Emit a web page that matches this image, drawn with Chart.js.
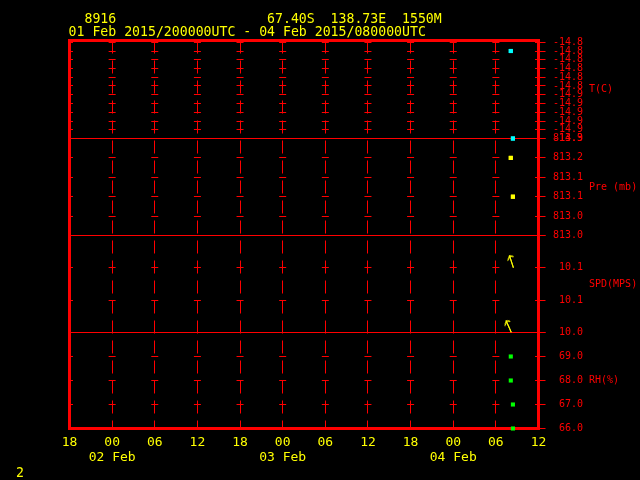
<!DOCTYPE html>
<html>
<head>
<meta charset="utf-8">
<script src="https://cdn.jsdelivr.net/npm/chart.js@4.4.1/dist/chart.umd.min.js"></script>
<style>
  html, body { margin: 0; padding: 0; background: #000; }
  #wrap { position: relative; width: 640px; height: 480px; background: #000; }
  #meteo { position: absolute; left: 0; top: 0; }
  .lbl { position: absolute; color: #ffff00; font: 13.2px "DejaVu Sans Mono", monospace; line-height: 13px; white-space: pre; }
</style>
</head>
<body>
<div id="wrap">
  <canvas id="meteo" width="640" height="480"></canvas>
  <div class="lbl" style="left:68.6px;top:12px">  8916                   67.40S  138.73E  1550M
01 Feb 2015/200000UTC - 04 Feb 2015/080000UTC</div>
  <div class="lbl" style="left:16px;top:466px">2</div>
</div>
<script>
/* ═══════════════════════════════════════════
   STATION 8916 METEOGRAM
═══════════════════════════════════════════ */

const RED = '#ff0000';
const YELLOW = '#ffff00';
const MONO = '"DejaVu Sans Mono", monospace';

// time axis: hours after 01 Feb 18 UTC
const hourTicks = [0, 6, 12, 18, 24, 30, 36, 42, 48, 54, 60, 66];
const hourLabels = ['18', '00', '06', '12', '18', '00', '06', '12', '18', '00', '06', '12'];
const dayLabels = ['', '02 Feb', '', '', '', '03 Feb', '', '', '', '04 Feb', '', ''];

// observations
const obsHours = [62.1, 62.1, 62.4, 62.4];
const tempC = [-14.81, -14.81, -14.91, -14.91];
const presMb = [813.20, 813.20, 813.10, 813.10];
const windSpd = [10.02, 10.02, 10.10, 10.10];
const windDir = [336, 336, 342, 342];
const relHum = [69, 68, 67, 66];

// panel axes
const tempTicks = [-14.91, -14.90, -14.89, -14.88, -14.87, -14.86, -14.85, -14.84, -14.83, -14.82, -14.81, -14.80];
const tempTickLabels = ['-14.9', '-14.9', '-14.9', '-14.9', '-14.9', '-14.9', '-14.8', '-14.8', '-14.8', '-14.8', '-14.8', '-14.8'];
const presTicks = [813.00, 813.05, 813.10, 813.15, 813.20, 813.25];
const presTickLabels = ['813.0', '813.0', '813.1', '813.1', '813.2', '813.3'];
const spdTicks = [10.02, 10.06, 10.10, 10.14];
const spdTickLabels = ['10.0', '10.1', '10.1', ''];
const rhTicks = [66, 67, 68, 69, 70];
const rhTickLabels = ['66.0', '67.0', '68.0', '69.0', ''];

// layout
const PLOT_LEFT = 69.5, PLOT_TOP = 40.5, PAD_RIGHT = 57;
const AXIS_W = 44.5, XAXIS_H = 51.5;
const COL = (640 - PLOT_LEFT - AXIS_W - PAD_RIGHT) / (hourTicks.length - 1);

/**
 * Wind arrow glyph, tail at the centre of the canvas
 */
function makeArrow() {
    const c = document.createElement('canvas');
    c.width = 32; c.height = 32;
    const g = c.getContext('2d');
    g.strokeStyle = YELLOW;
    g.lineWidth = 1;
    g.beginPath();
    g.moveTo(16.5, 16); g.lineTo(16.5, 3.5);
    g.moveTo(13.5, 7.5); g.lineTo(16.5, 3.5); g.lineTo(20, 5.5);
    g.stroke();
    return c;
}

function panelAxis(title, min, max, tickVals, tickLabels, weight) {
    return {
        type: 'linear',
        position: 'right',
        stack: 'panels',
        stackWeight: weight,
        min: min,
        max: max,
        afterBuildTicks: s => { s.ticks = tickVals.map(v => ({ value: v })); },
        afterFit: s => { s.width = AXIS_W; },
        title: { display: false, text: title },
        border: { display: false, dash: [7, COL - 7], dashOffset: 3.5 },
        grid: { color: RED, lineWidth: 1, tickLength: 7, drawTicks: true },
        ticks: {
            color: RED,
            font: { family: MONO, size: 10 },
            crossAlign: 'far',
            autoSkip: false,
            callback: (v, i) => tickLabels[i]
        }
    };
}

const panelIds = ['yT', 'yP', 'yS', 'yRH'];

// frame, dividers, panel titles
const panelFrame = {
    id: 'panelFrame',
    beforeDatasetsDraw(chart) {
        const { ctx, chartArea: a } = chart;
        ctx.save();
        ctx.strokeStyle = RED;
        ctx.lineWidth = 1;
        panelIds.slice(0, -1).forEach(id => {
            const y = Math.floor(chart.scales[id].bottom) + 0.5;
            ctx.beginPath();
            ctx.moveTo(a.left, y);
            ctx.lineTo(a.right, y);
            ctx.stroke();
        });
        ctx.lineWidth = 3;
        ctx.strokeRect(a.left, a.top, a.right - a.left, a.bottom - a.top);
        ctx.restore();
    },
    afterDraw(chart) {
        const { ctx, chartArea: a } = chart;
        ctx.save();
        ctx.fillStyle = RED;
        ctx.font = '10px ' + MONO;
        ctx.textAlign = 'left';
        ctx.textBaseline = 'middle';
        panelIds.forEach(id => {
            const s = chart.scales[id];
            ctx.fillText(s.options.title.text, a.right + 50.5, (s.top + s.bottom) / 2);
        });
        ctx.restore();
    }
};

const pts = ys => obsHours.map((h, i) => ({ x: h, y: ys[i] }));

const squareSet = (ys, axis, color) => ({
    data: pts(ys),
    yAxisID: axis,
    pointStyle: 'rect',
    pointRadius: 2.9,
    pointBorderWidth: 0,
    pointBackgroundColor: color,
    clip: false
});

new Chart(document.getElementById('meteo'), {
    type: 'scatter',
    data: {
        datasets: [
            squareSet(tempC, 'yT', '#00ffff'),
            squareSet(presMb, 'yP', YELLOW),
            {
                data: pts(windSpd),
                yAxisID: 'yS',
                pointStyle: makeArrow(),
                pointRadius: 3,
                pointRotation: windDir,
                clip: false
            },
            squareSet(relHum, 'yRH', '#00ff00')
        ]
    },
    options: {
        responsive: false,
        animation: false,
        devicePixelRatio: 1,
        events: [],
        layout: { padding: { left: PLOT_LEFT, top: PLOT_TOP, right: PAD_RIGHT, bottom: 0 } },
        plugins: { legend: { display: false }, tooltip: { enabled: false } },
        scales: {
            x: {
                type: 'linear',
                min: hourTicks[0],
                max: hourTicks[hourTicks.length - 1],
                afterBuildTicks: s => { s.ticks = hourTicks.map(v => ({ value: v })); },
                afterFit: s => { s.height = XAXIS_H; },
                border: { display: false, dash: [13, 7] },
                grid: { color: RED, lineWidth: 1, drawTicks: false },
                ticks: {
                    color: YELLOW,
                    font: { family: MONO, size: 13, lineHeight: 1.1 },
                    padding: 7.3,
                    maxRotation: 0,
                    autoSkip: false,
                    callback: (v, i) => dayLabels[i] ? [hourLabels[i], dayLabels[i]] : hourLabels[i]
                }
            },
            yT: panelAxis('T(C)', -14.91, -14.798, tempTicks, tempTickLabels, 98),
            yP: panelAxis('Pre (mb)', 813.00, 813.25, presTicks, presTickLabels, 97),
            yS: panelAxis('SPD(MPS)', 10.02, 10.14, spdTicks, spdTickLabels, 97),
            yRH: panelAxis('RH(%)', 66, 70, rhTicks, rhTickLabels, 96)
        }
    },
    plugins: [panelFrame]
});
</script>
</body>
</html>
